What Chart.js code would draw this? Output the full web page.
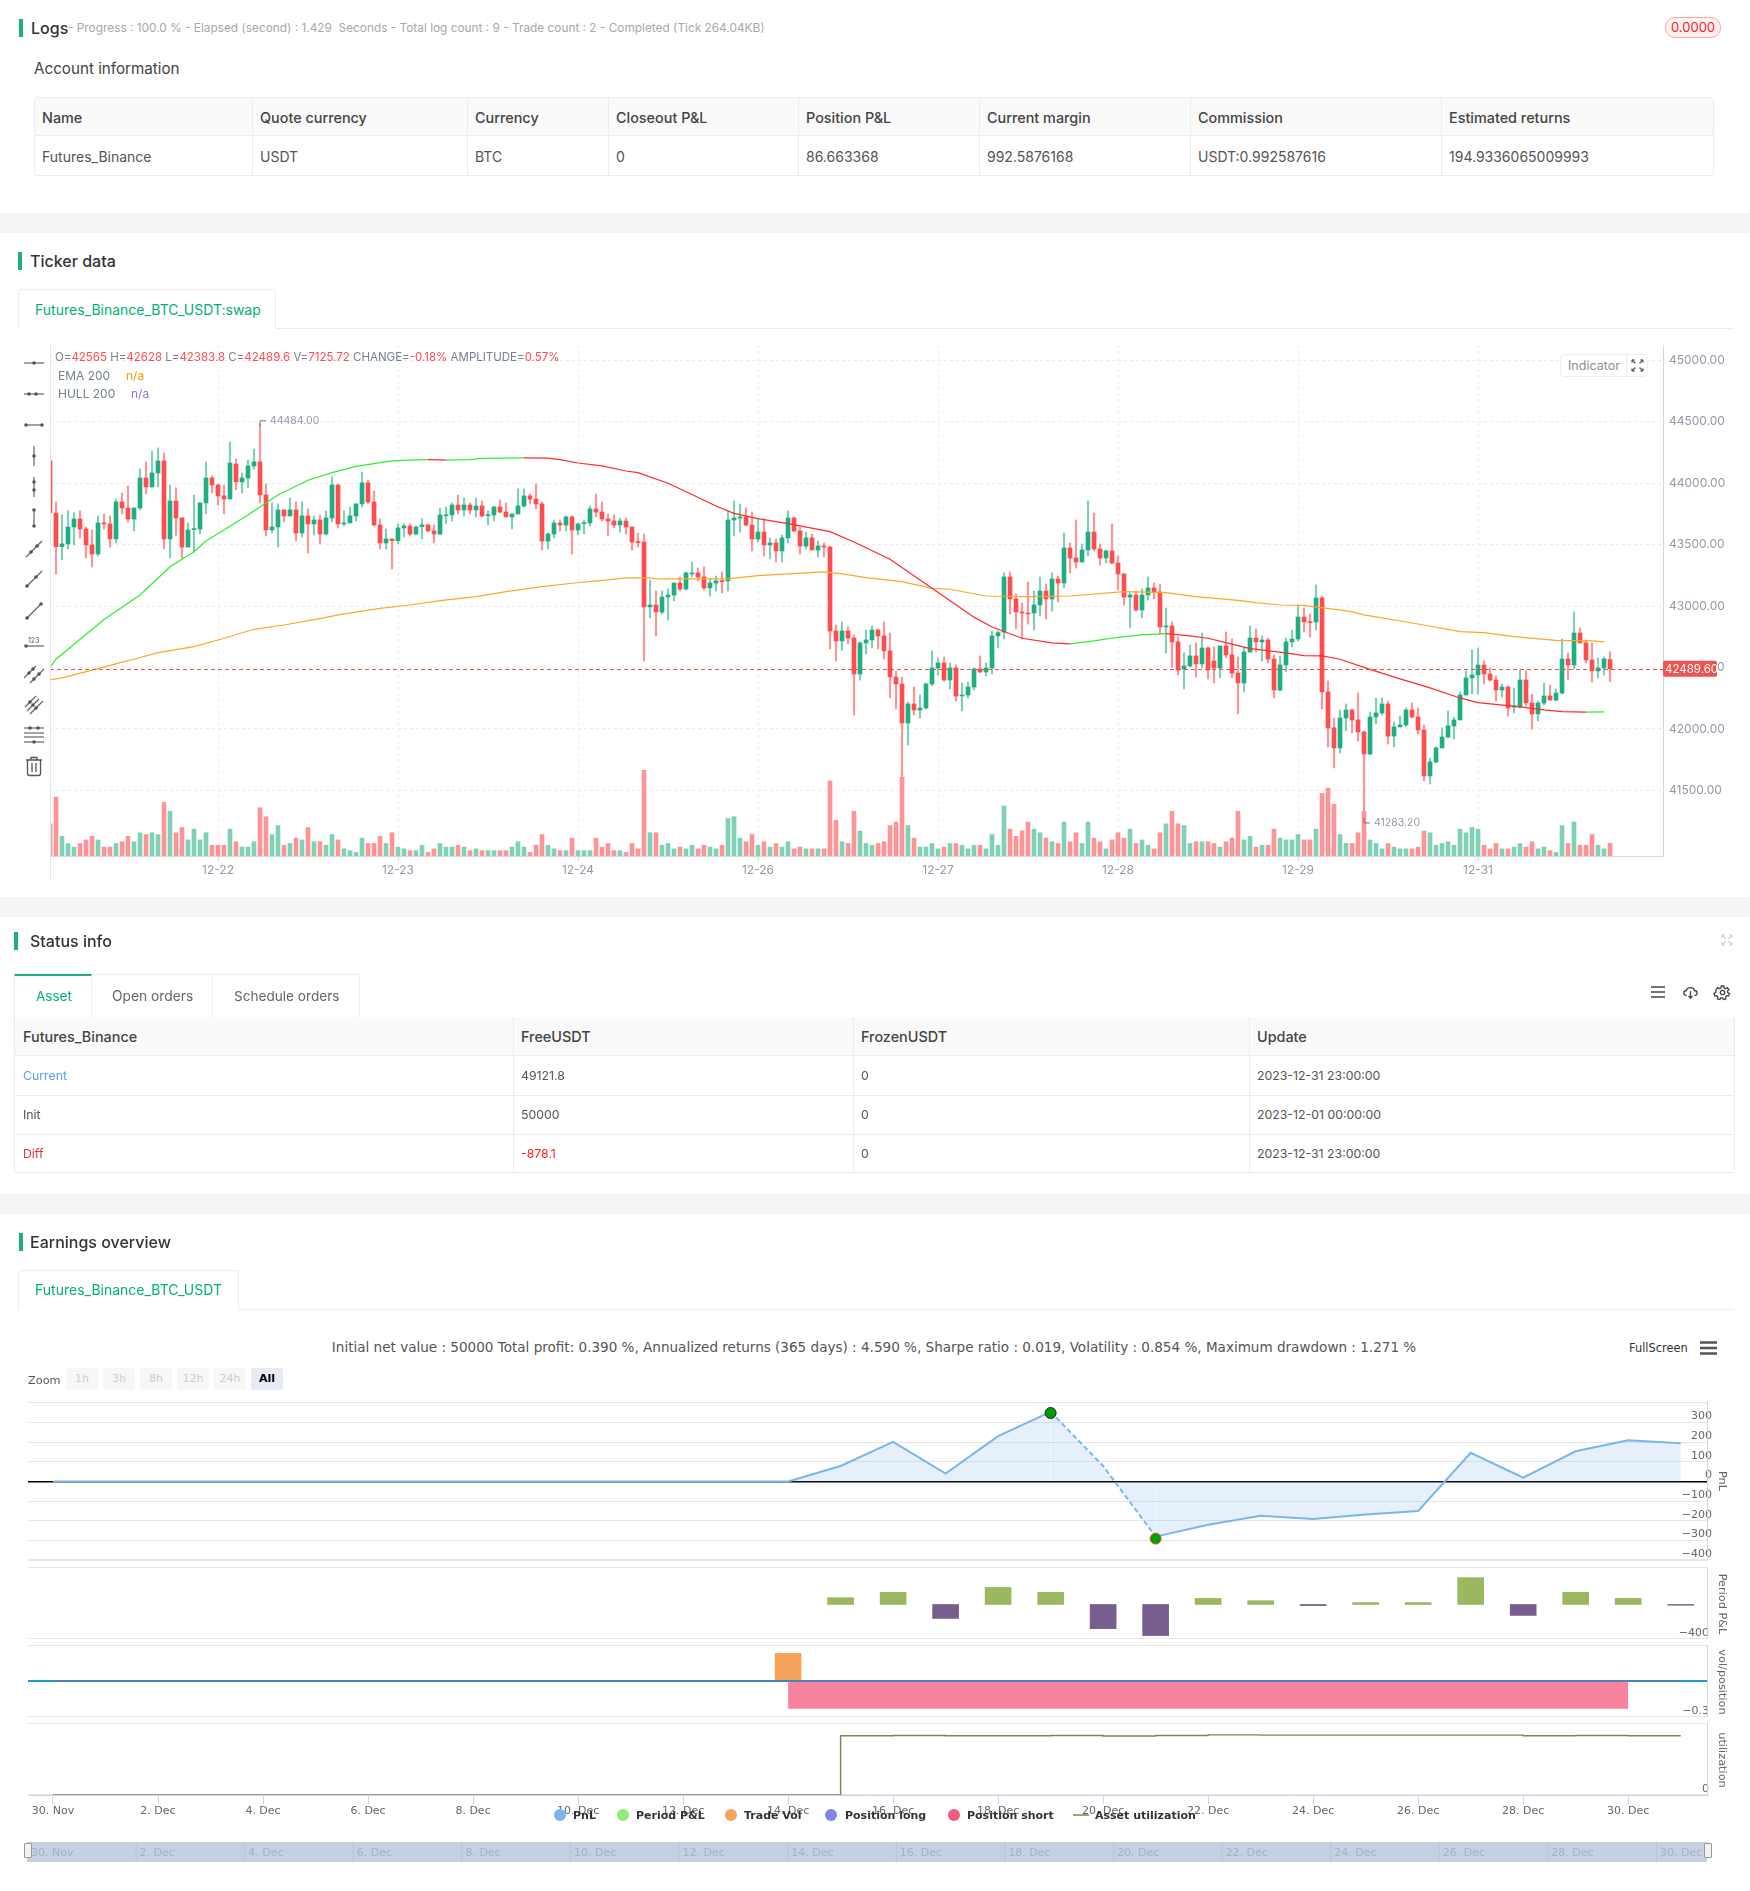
<!DOCTYPE html>
<html>
<head>
<meta charset="utf-8">
<script src="https://cdn.jsdelivr.net/npm/chart.js@4/dist/chart.umd.js"></script>
<style>
html,body{margin:0;padding:0;background:#fff}
body{position:relative;width:1750px;height:1891px;overflow:hidden;font-family:Inter,"Noto Sans",sans-serif;color:#333}
.t{position:absolute;white-space:nowrap;transform:translateY(-50%)}
.box{position:absolute;box-sizing:border-box}
.band{position:absolute;left:0;width:1750px;background:#f4f5f7}
.bar{position:absolute;width:4px;height:18px;background:#1fae81}
.h{font-size:16px;font-weight:500;color:#333}
.b{font-size:14.400px;font-weight:500;color:#444}
.c{font-size:14px;color:#555}
.s{font-size:12.300px;color:#555}
.line{position:absolute;background:#ececec}
.rv{color:#ff4d4f}
canvas{position:absolute;left:0}
.hc{font-family:"DejaVu Sans",sans-serif}
.ztxt{position:absolute;box-sizing:border-box;height:22px;line-height:22px;text-align:center;font-size:11px;background:#f7f7f7;color:#ccc;border-radius:2px;font-family:"DejaVu Sans",sans-serif}
.lg{font-family:"DejaVu Sans",sans-serif;font-size:11px;font-weight:700;color:#333}
.dot{position:absolute;width:12px;height:12px;border-radius:50%;transform:translateY(-50%)}
.vt{position:absolute;writing-mode:vertical-rl;white-space:nowrap;font-family:"DejaVu Sans",sans-serif;font-size:11.300px;color:#666;transform:translate(-50%,-50%)}
svg{position:absolute;overflow:visible}
</style>
</head>
<body>

<!-- logs -->
<div class="bar" style="left:19px;top:19px"></div>
<div class="t h" style="left:31px;top:28px">Logs</div>
<div class="t" style="left:68px;top:27.500px;font-size:11.850px;color:#a8a8a8">- Progress : 100.0 % - Elapsed (second) : 1.429&nbsp; Seconds - Total log count : 9 - Trade count : 2 - Completed (Tick 264.04KB)</div>
<div class="box" style="left:1665px;top:17px;width:56px;height:21px;border:1px solid #ffa39e;border-radius:10px;background:#fff1f0;color:#f5222d;font-size:13px;text-align:center;line-height:19px">0.0000</div>
<div class="t" style="left:34px;top:68px;font-size:15.200px;color:#444">Account information</div>

<div class="box" style="left:34px;top:97px;width:1680px;height:79px;border:1px solid #ececec;border-radius:3px"></div>
<div class="box" style="left:35px;top:98px;width:1678px;height:38px;background:#fafafa;border-bottom:1px solid #ececec"></div>
<div id="accountTable"></div>

<div class="band" style="top:213px;height:20px"></div>

<!-- ticker -->
<div class="bar" style="left:18px;top:252px"></div>
<div class="t h" style="left:30px;top:261px">Ticker data</div>
<div class="line" style="left:18px;top:328px;width:1716px;height:1px"></div>
<div class="box" style="left:18px;top:289px;width:258px;height:40px;border:1px solid #ececec;border-bottom:1px solid #fff;border-radius:4px 4px 0 0;background:#fff"></div>
<div class="t" style="left:35px;top:308.500px;font-size:14px;color:#00b07c">Futures_Binance_BTC_USDT:swap</div>

<canvas id="candleChart" width="1750" height="535" style="top:345px;width:1750px;height:535px"></canvas>

<div class="t" style="left:55px;top:357px;font-size:11.500px;color:#76808f">O=<span class="rv">42565</span> H=<span class="rv">42628</span> L=<span class="rv">42383.8</span> C=<span class="rv">42489.6</span> V=<span class="rv">7125.72</span> CHANGE=<span class="rv">-0.18%</span> AMPLITUDE=<span class="rv">0.57%</span></div>
<div class="t" style="left:58px;top:375px;font-size:12px;color:#76808f">EMA 200</div>
<div class="t" style="left:126px;top:375px;font-size:12px;color:#ff9800">n/a</div>
<div class="t" style="left:58px;top:393px;font-size:12px;color:#76808f">HULL 200</div>
<div class="t" style="left:131px;top:393px;font-size:12px;color:#9b6fd0">n/a</div>

<div class="box" style="left:1560px;top:354px;width:88px;height:23px;border:1px solid #eee;border-radius:4px;background:#fff"></div>
<div class="line" style="left:1626px;top:354px;width:1px;height:23px"></div>
<div class="t" style="left:1568px;top:365px;font-size:12.500px;color:#8b8f97">Indicator</div>
<svg style="left:1631px;top:359px" width="13" height="13" viewBox="0 0 13 13" fill="none" stroke="#666" stroke-width="1.4"><path d="M1 1l3.500 3.500M12 1L8.500 4.500M1 12l3.500-3.500M12 12L8.500 8.500M1 1h2.500M1 1v2.500M12 1H9.500M12 1v2.500M1 12h2.500M1 12V9.500M12 12H9.500M12 12V9.500"/></svg>

<div id="tools"></div>

<div class="band" style="top:897px;height:20px"></div>

<!-- status -->
<div class="bar" style="left:14px;top:932px"></div>
<div class="t h" style="left:30px;top:941px">Status info</div>
<svg style="left:1721px;top:934px" width="12" height="12" viewBox="0 0 12 12" fill="none" stroke="#d5d5d5" stroke-width="1.2"><path d="M1 1l4 4M1 1h3M1 1v3M11 11L7 7M11 11H8M11 11V8M11 1L7 5M11 1H8M11 1v3M1 11l4-4M1 11h3M1 11V8"/></svg>
<div class="line" style="left:14px;top:1017px;width:1720px;height:1px"></div>
<div class="box" style="left:92px;top:974px;width:121px;height:43px;border:1px solid #eee;border-bottom:none;border-left:none"></div>
<div class="box" style="left:213px;top:974px;width:147px;height:43px;border:1px solid #eee;border-bottom:none;border-left:none"></div>
<div class="box" style="left:14px;top:974px;width:78px;height:44px;border:1px solid #eee;border-top:2px solid #1fae81;border-bottom:1px solid #fff;background:#fff"></div>
<div class="t" style="left:36px;top:996px;font-size:13.500px;color:#00b07c">Asset</div>
<div class="t" style="left:112px;top:996px;font-size:13.800px;color:#666">Open orders</div>
<div class="t" style="left:234px;top:996px;font-size:13.600px;color:#666">Schedule orders</div>
<svg style="left:1650px;top:985px" width="16" height="14" viewBox="0 0 16 14" stroke="#444" stroke-width="1.6"><path d="M1 2h14M1 7h14M1 12h14"/></svg>
<svg style="left:1682px;top:985px" width="17" height="14" viewBox="0 0 17 14" fill="none" stroke="#444" stroke-width="1.3"><path d="M4.500 10.500C1 10.500 1 5.500 4.500 5.500 5 2 11.500 1.500 12.500 5.500 16 5.500 16 10.500 12.500 10.500M8.500 6v7M6.500 11l2 2 2-2"/></svg>
<svg style="left:1715px;top:985px" width="15" height="15" viewBox="0 0 15 15" fill="none" stroke="#444" stroke-width="1.3"><circle cx="7.500" cy="7.500" r="2.200"/><path d="M6.300 1h2.400l.4 2 1.500.7 1.800-1.100 1.500 1.900-1.400 1.500.3 1.600 1.700 1-.8 2.300-2-.2-1.100 1.200.2 2-2.300.6-1-1.700h-1.600l-1 1.700-2.300-.6.2-2-1.100-1.200-2 .2-.8-2.300 1.700-1 .3-1.600L1.100 4.500l1.500-1.900 1.800 1.100 1.500-.7z"/></svg>
<div class="box" style="left:14px;top:1017px;width:1720px;height:38px;background:#fafafa"></div>
<div class="line" style="left:14px;top:1055px;width:1720px;height:1px"></div>
<div class="line" style="left:14px;top:1095px;width:1720px;height:1px"></div>
<div class="line" style="left:14px;top:1134px;width:1720px;height:1px"></div>
<div class="line" style="left:14px;top:1172px;width:1720px;height:1px"></div>
<div class="line" style="left:14px;top:1017px;width:1px;height:155px"></div>
<div class="line" style="left:1734px;top:1017px;width:1px;height:155px"></div>
<div id="statusTable"></div>

<div class="band" style="top:1194px;height:20px"></div>

<!-- earnings -->
<div class="bar" style="left:19px;top:1233px"></div>
<div class="t h" style="left:30px;top:1242px">Earnings overview</div>
<div class="line" style="left:18px;top:1309px;width:1716px;height:1px"></div>
<div class="box" style="left:18px;top:1270px;width:221px;height:40px;border:1px solid #ececec;border-bottom:1px solid #fff;border-radius:4px 4px 0 0;background:#fff"></div>
<div class="t" style="left:35px;top:1289px;font-size:14px;color:#00b07c">Futures_Binance_BTC_USDT</div>

<div class="t hc" style="left:874px;top:1347px;font-size:13.550px;color:#555;transform:translate(-50%,-50%)">Initial net value : 50000 Total profit: 0.390 %, Annualized returns (365 days) : 4.590 %, Sharpe ratio : 0.019, Volatility : 0.854 %, Maximum drawdown : 1.271 %</div>
<div class="t hc" style="left:1629px;top:1348px;font-size:11.400px;color:#333">FullScreen</div>
<svg style="left:1700px;top:1341px" width="17" height="14" viewBox="0 0 17 14" stroke="#555" stroke-width="2.600"><path d="M0 1.500h17M0 7h17M0 12.500h17"/></svg>

<div class="t hc" style="left:28px;top:1380px;font-size:11.300px;color:#555">Zoom</div>
<div class="ztxt" style="left:66px;top:1368px;width:32px">1h</div>
<div class="ztxt" style="left:103px;top:1368px;width:32px">3h</div>
<div class="ztxt" style="left:140px;top:1368px;width:32px">8h</div>
<div class="ztxt" style="left:177px;top:1368px;width:32px">12h</div>
<div class="ztxt" style="left:214px;top:1368px;width:32px">24h</div>
<div class="ztxt" style="left:251px;top:1368px;width:32px;background:#e6ebf5;color:#000;font-weight:600">All</div>

<canvas id="pnlChart" width="1750" height="160" style="top:1401px;width:1750px;height:160px"></canvas>
<canvas id="periodChart" width="1750" height="74" style="top:1566px;width:1750px;height:74px"></canvas>
<canvas id="volChart" width="1750" height="74" style="top:1644px;width:1750px;height:74px"></canvas>
<canvas id="utilChart" width="1750" height="102" style="top:1722px;width:1750px;height:102px"></canvas>
<canvas id="navChart" width="1750" height="22" style="top:1841px;width:1750px;height:22px"></canvas>

<div class="vt" style="left:1722px;top:1481px">PnL</div>
<div class="vt" style="left:1722px;top:1604px">Period P&amp;L</div>
<div class="vt" style="left:1722px;top:1682px">vol/position</div>
<div class="vt" style="left:1722px;top:1760px">utilization</div>

<div class="box" style="left:24px;top:1843px;width:8px;height:15px;background:#f2f2f2;border:1px solid #999;border-radius:1px"></div>
<div class="box" style="left:1704px;top:1843px;width:8px;height:15px;background:#f2f2f2;border:1px solid #999;border-radius:1px"></div>

<div class="dot" style="left:554px;top:1815px;background:#7cb5ec"></div><div class="t lg" style="left:573px;top:1815px">PnL</div>
<div class="dot" style="left:617px;top:1815px;background:#90ed7d"></div><div class="t lg" style="left:636px;top:1815px">Period P&amp;L</div>
<div class="dot" style="left:725px;top:1815px;background:#f7a35c"></div><div class="t lg" style="left:744px;top:1815px">Trade Vol</div>
<div class="dot" style="left:825px;top:1815px;background:#8085e9"></div><div class="t lg" style="left:845px;top:1815px">Position long</div>
<div class="dot" style="left:948px;top:1815px;background:#f15c80"></div><div class="t lg" style="left:967px;top:1815px">Position short</div>
<div class="box" style="left:1073px;top:1814px;width:16px;height:2px;background:#a99d73"></div><div class="t lg" style="left:1095px;top:1815px">Asset utilization</div>

<script>
// hourly candles
const opens = [
  44182,43758,43484,43506,43644,43709,43628,43498,43424,43677,
  43669,43547,43848,43799,43709,43799,44043,43970,44084,44182,
  43547,43856,43718,43481,43623,43628,43840,44043,43986,43897,
  43872,44157,44011,44043,44141,44174,43905,43620,43644,43783,
  43734,43783,43595,43734,43669,43701,43587,43718,43986,43669,
  43677,43734,43832,44003,43848,43661,43514,43547,43533,43636,
  43652,43587,43647,43661,43612,43587,43736,43742,43823,43783,
  43823,43783,43815,43736,43742,43807,43766,43726,43750,43815,
  43897,43872,43832,43530,43587,43677,43660,43726,43620,43671,
  43677,43791,43766,43709,43693,43660,43693,43644,43522,43522,
  42993,43009,42952,43074,43090,43188,43139,43262,43270,43237,
  43148,43188,43205,43205,43701,43717,43726,43660,43546,43603,
  43498,43514,43449,43555,43717,43612,43489,43555,43457,43489,
  43481,42797,42716,42797,42740,42447,42700,42724,42805,42757,
  42635,42423,42366,42048,42203,42154,42170,42366,42496,42537,
  42398,42496,42268,42276,42341,42488,42464,42496,42757,42789,
  43237,43058,42952,42944,42944,43009,43123,43058,43221,43188,
  43473,43392,43359,43457,43603,43465,43392,43449,43351,43262,
  43074,43090,42968,43090,43147,43115,42830,42838,42708,42488,
  42512,42594,42529,42659,42553,42496,42675,42602,42455,42374,
  42626,42740,42708,42724,42569,42317,42521,42708,42732,42911,
  42871,42871,43066,42301,42008,41845,42089,42154,42073,41975,
  41796,42097,42130,42203,41942,42016,42032,42154,42097,41991,
  41617,41731,41845,41934,42024,42073,42276,42415,42439,42520,
  42447,42398,42317,42341,42178,42178,42398,42211,42122,42211,
  42268,42235,42292,42569,42521,42781,42700,42561,42472,42496,42565
];
const highs = [
  44293,43848,43742,43777,43761,43775,43644,43620,43734,43750,
  43734,43872,43921,43978,43799,44117,44174,44263,44288,44247,
  43986,43962,43718,43677,43905,43840,44174,44060,43994,43986,
  44336,44198,44084,44190,44279,44484,43994,43840,43832,43783,
  43880,43848,43848,43791,43734,43742,43775,44051,43994,43775,
  43807,43832,44092,44027,43937,43709,43628,43547,43669,43669,
  43669,43652,43712,43669,43661,43799,43807,43840,43905,43880,
  43840,43880,43856,43775,43815,43864,43840,43750,43954,43954,
  43913,43994,43848,43595,43701,43701,43734,43734,43677,43701,
  43815,43913,43848,43750,43742,43717,43717,43644,43595,43587,
  43213,43123,43123,43139,43188,43237,43278,43359,43310,43319,
  43229,43245,43278,43774,43856,43831,43799,43766,43709,43709,
  43555,43546,43579,43774,43726,43644,43603,43587,43530,43514,
  43489,42846,42871,42830,42765,42708,42805,42838,42814,42871,
  42781,42472,42423,42219,42341,42276,42374,42635,42578,42586,
  42537,42521,42374,42382,42496,42594,42537,42797,42797,43270,
  43278,43099,43025,43196,43123,43237,43180,43270,43245,43595,
  43514,43701,43506,43856,43758,43506,43457,43669,43408,43262,
  43107,43123,43139,43237,43188,43180,42985,42871,42748,42618,
  42683,42700,42781,42667,42667,42675,42789,42732,42586,42667,
  42838,42814,42757,42740,42602,42594,42740,42805,43009,42985,
  42936,43172,43082,42390,42089,42154,42203,42162,42293,41983,
  42138,42252,42252,42227,42056,42105,42170,42211,42170,42032,
  41763,41853,42008,42146,42097,42301,42472,42643,42659,42553,
  42496,42431,42366,42350,42333,42480,42472,42284,42227,42374,
  42358,42325,42732,42618,42952,42822,42724,42700,42578,42586,42628
];
const lows = [
  43761,43262,43376,43465,43498,43555,43392,43319,43408,43628,
  43481,43514,43750,43685,43612,43783,43913,43970,43970,43465,
  43392,43571,43392,43481,43441,43587,43750,43921,43823,43750,
  43872,43946,43921,43962,44117,43840,43571,43595,43481,43685,
  43734,43530,43563,43433,43579,43506,43579,43685,43636,43652,
  43677,43693,43807,43832,43652,43465,43465,43302,43506,43563,
  43571,43579,43547,43604,43514,43579,43669,43693,43750,43734,
  43750,43726,43726,43660,43693,43758,43726,43628,43750,43807,
  43832,43791,43457,43465,43555,43612,43612,43424,43579,43587,
  43652,43726,43693,43571,43636,43603,43587,43457,43481,42553,
  42903,42757,42936,42887,43042,43123,43131,43237,43205,43131,
  43082,43123,43107,43123,43571,43603,43652,43449,43522,43408,
  43384,43359,43359,43514,43603,43424,43465,43457,43400,43400,
  42651,42553,42640,42692,42113,42398,42610,42659,42651,42570,
  42252,42162,41350,41869,42113,42089,42162,42350,42439,42390,
  42325,42227,42146,42252,42317,42456,42431,42447,42659,42732,
  42936,42814,42732,42854,42805,42920,42895,42960,43033,43147,
  43270,43310,43359,43408,43449,43335,43351,43343,43131,43009,
  42822,42960,42903,43050,43058,42773,42618,42504,42439,42325,
  42504,42423,42496,42407,42374,42415,42578,42415,42122,42301,
  42626,42626,42553,42537,42252,42309,42464,42667,42716,42789,
  42748,42805,42162,41853,41682,41804,41983,41967,41902,41283.2,
  41788,42040,42113,41877,41853,42016,42016,42089,41959,41576,
  41552,41723,41845,41926,41918,42073,42276,42284,42284,42366,
  42390,42227,42260,42105,42130,42170,42187,41999,42065,42195,
  42235,42227,42284,42398,42488,42700,42537,42382,42415,42439,42383.8
];
const closes = [
  43761,43484,43506,43644,43709,43628,43498,43424,43677,43669,
  43547,43848,43799,43709,43799,44043,43970,44084,44182,43547,
  43856,43718,43481,43620,43628,43840,44043,43986,43897,43872,
  44165,44011,44043,44141,44174,43905,43620,43644,43783,43734,
  43783,43595,43734,43669,43701,43587,43718,43986,43669,43677,
  43734,43832,44003,43848,43661,43514,43547,43533,43636,43652,
  43587,43644,43661,43612,43587,43742,43742,43823,43783,43823,
  43783,43815,43734,43742,43807,43766,43726,43750,43815,43897,
  43872,43832,43530,43587,43677,43660,43726,43620,43669,43677,
  43791,43766,43709,43693,43660,43693,43644,43522,43517,42993,
  43009,42952,43074,43090,43188,43139,43270,43270,43237,43148,
  43188,43205,43199,43701,43717,43726,43660,43546,43603,43498,
  43514,43449,43555,43717,43612,43489,43555,43457,43489,43481,
  42797,42716,42797,42740,42447,42700,42724,42805,42757,42635,
  42423,42366,42048,42203,42154,42170,42366,42496,42537,42398,
  42496,42268,42276,42341,42488,42464,42496,42757,42784,43237,
  43058,42952,42944,42936,43009,43123,43058,43221,43188,43473,
  43392,43359,43457,43603,43465,43392,43449,43351,43262,43074,
  43090,42968,43090,43147,43115,42830,42838,42708,42480,42512,
  42594,42529,42659,42480,42496,42675,42602,42455,42374,42626,
  42740,42708,42724,42569,42317,42521,42708,42732,42911,42871,
  42865,43066,42301,42008,41845,42089,42154,42073,41975,41796,
  42097,42130,42203,41942,42016,42032,42154,42097,41991,41617,
  41731,41845,41934,42024,42073,42276,42415,42439,42520,42447,
  42398,42317,42341,42170,42187,42398,42211,42122,42211,42268,
  42235,42292,42569,42521,42781,42700,42561,42472,42496,42569,42489.6
];
// volume in thousands
const volumes = [
  18,33,11,7,5,7,9,11,9,5,
  5,7,8,11,8,13,12,13,12,30,
  25,13,16,9,15,9,13,6,6,6,
  15,8,5,5,8,27,22,12,17,6,
  7,10,9,16,8,8,6,12,9,4,
  3,2,10,7,7,11,7,13,5,4,
  3,3,6,2,4,7,5,5,6,5,
  3,4,3,3,3,3,3,5,8,5,
  2,6,12,6,4,3,3,10,3,3,
  3,10,5,7,3,3,2,7,4,48,
  13,13,6,7,4,5,4,6,4,6,
  5,4,6,21,22,10,8,12,6,8,
  5,7,5,8,4,5,4,4,4,4,
  42,20,8,7,25,14,7,6,7,8,
  17,19,44,17,10,5,5,7,4,5,
  7,7,6,4,6,6,4,12,6,28,
  15,11,14,19,15,13,10,8,7,19,
  8,13,7,19,10,8,4,9,13,10,
  15,7,9,6,4,13,18,25,18,17,
  7,8,8,8,7,5,8,10,25,9,
  11,5,6,6,15,10,9,9,12,9,
  9,15,35,38,29,12,7,7,13,25,
  9,7,4,7,5,4,4,4,5,14,
  13,6,7,8,6,15,13,16,15,6,
  4,7,4,4,5,7,5,8,4,5,
  3,2,17,7,19,6,6,12,6,4,7.1
];

const hullIdx = [0,1,9,15,20,24,26,33,38,43,47,51,57,60,63,65,66,70,72,79,83,85,88,92,96,98,103,107,111,114,118,123,130,134,140,147,154,157,162,167,170,174,178,182,186,190,193,196,200,205,209,212,215,220,225,230,235,238,245,249,252,256,259];
const hullVals = [42500,42567,42890,43090,43320,43443,43530,43742,43905,44025,44087,44138,44182,44188,44192,44190,44188,44193,44203,44207,44205,44193,44165,44141,44100,44087,44000,43908,43815,43755,43712,43672,43606,43522,43381,43145,42910,42830,42738,42700,42692,42716,42746,42765,42776,42757,42738,42703,42653,42625,42597,42594,42567,42485,42407,42334,42252,42214,42180,42155,42141,42137,42139];
const emaIdx = [0,2,8,12,14,18,24,28,34,39,45,48,55,60,65,71,76,82,87,93,96,100,101,113,118,123,129,132,136,142,147,150,156,163,170,179,186,191,198,201,205,209,217,219,229,235,239,244,251,257,259];
const emaVals = [42399,42415,42491,42544,42567,42621,42670,42724,42811,42846,42898,42928,42982,43009,43044,43077,43118,43158,43186,43213,43229,43229,43221,43221,43248,43262,43278,43262,43232,43199,43145,43137,43082,43077,43082,43118,43110,43077,43047,43028,43009,43006,42955,42928,42846,42792,42784,42751,42721,42716,42708];

const priceTicks = [41500,42000,42500,43000,43500,44000,44500,45000];
const timeTickIdx = [28,58,88,118,148,178,208,238];
const timeTickLabels = ['12-22','12-23','12-24','12-26','12-27','12-28','12-29','12-31'];
const lastPrice = 42489.6;
const maxMark = {idx:35, value:44484};
const minMark = {idx:219, value:41283.2};

// daily backtest series, index 0 = 30 Nov, index 31 = 31 Dec
const dayLabels = ['30. Nov','1. Dec','2. Dec','3. Dec','4. Dec','5. Dec','6. Dec','7. Dec','8. Dec','9. Dec','10. Dec','11. Dec','12. Dec','13. Dec','14. Dec','15. Dec','16. Dec','17. Dec','18. Dec','19. Dec','20. Dec','21. Dec','22. Dec','23. Dec','24. Dec','25. Dec','26. Dec','27. Dec','28. Dec','29. Dec','30. Dec','31. Dec'];
const pnlValues = [0,0,0,0,0,0,0,0,0,0,0,0,0,0,0,79,202,40,231,355,79,-281,-220,-175,-191,-168,-150,146,19,154,210,195];
const dashedDays = [19,20];
const flagDays = [19,21];
const flagValues = [349,-291];
const flagBorders = ['#222','#e8562a'];
const periodValues = [null,null,null,null,null,null,null,null,null,null,null,null,null,null,null,79,140,-162,197,140,-280,-360,70,44,-13,22,22,311,-127,140,70,-9];
const tradeVol = [null,null,null,null,null,null,null,null,null,null,null,null,null,null,0.3];
const positionLong = [0,0,0,0,0,0,0,0,0,0,0,0,0,0,0,0,0,0,0,0,0,0,0,0,0,0,0,0,0,0,0,0];
const positionShort = [null,null,null,null,null,null,null,null,null,null,null,null,null,null,-0.3,-0.3,-0.3,-0.3,-0.3,-0.3,-0.3,-0.3,-0.3,-0.3,-0.3,-0.3,-0.3,-0.3,-0.3,-0.3,-0.3,null];
const utilization = [0,0,0,0,0,0,0,0,0,0,0,0,0,0,0,0.02,0.0201,0.02,0.02,0.0201,0.0199,0.0201,0.0203,0.0202,0.0202,0.0202,0.0202,0.0202,0.02,0.0201,0.02,0.02];

const accountHead = [['Name',42],['Quote currency',260],['Currency',475],['Closeout P&L',616],['Position P&L',806],['Current margin',987],['Commission',1198],['Estimated returns',1449]];
const accountRow = ['Futures_Binance','USDT','BTC','0','86.663368','992.5876168','USDT:0.992587616','194.9336065009993'];
const statusHead = [['Futures_Binance',23],['FreeUSDT',521],['FrozenUSDT',861],['Update',1257]];
const statusRows = [
  ['Current','49121.8','0','2023-12-31 23:00:00'],
  ['Init','50000','0','2023-12-01 00:00:00'],
  ['Diff','-878.1','0','2023-12-31 23:00:00']
];

function addText(parent, cls, text, x, y, color) {
  const d = document.createElement('div');
  d.className = 't ' + cls;
  d.textContent = text;
  d.style.left = x + 'px';
  d.style.top = y + 'px';
  if (color) d.style.color = color;
  parent.appendChild(d);
}

function addLine(parent, x, y, h) {
  const d = document.createElement('div');
  d.className = 'line';
  d.style.cssText = `left:${x}px;top:${y}px;width:1px;height:${h}px`;
  parent.appendChild(d);
}

const acc = document.getElementById('accountTable');
accountHead.forEach((h, i) => {
  addText(acc, 'b', h[0], h[1], 116.5);
  addText(acc, 'c', accountRow[i], h[1], 155.5);
  if (i > 0) addLine(acc, h[1] - 8, 97, 79);
});

const st = document.getElementById('statusTable');
statusHead.forEach((h, i) => {
  addText(st, 'b', h[0], h[1], 1035.5);
  if (i > 0) addLine(st, h[1] - 8, 1017, 155);
});
statusRows.forEach((row, r) => {
  const y = [1075, 1114, 1153][r];
  row.forEach((txt, i) => {
    let col = null;
    if (txt === 'Current') col = '#5aa0ee';
    if (txt === 'Diff') col = '#d9363e';
    if (txt === '-878.1') col = '#ff2020';
    addText(st, 's', txt, statusHead[i][1], y, col);
  });
});

// left drawing toolbar
const dot = (x, y) => `<circle cx="${x}" cy="${y}" r="1.8" fill="#555"/>`;
const seg = (a, b, c, d) => `<path d="M${a} ${b}L${c} ${d}" stroke="#666" stroke-width="1.2" fill="none"/>`;
const toolIcons = [
  [363, seg(0,10,20,10) + dot(10,10)],
  [394, seg(0,10,20,10) + dot(5,10) + dot(12,10)],
  [425, seg(1,10,19,10) + dot(2,10) + dot(18,10)],
  [456, seg(10,0,10,20) + dot(10,10)],
  [487, seg(10,0,10,20) + dot(10,5) + dot(10,13)],
  [518, seg(10,2,10,18) + dot(10,2) + dot(10,18)],
  [549, seg(2,18,18,2) + dot(7,13) + dot(13,7)],
  [579, seg(2,18,18,2) + dot(3,17) + dot(12,8)],
  [611, seg(3,17,17,3) + dot(3,17) + dot(17,3)],
  [643, seg(2,13,20,13) + dot(2,13) + '<text x="4" y="10" font-size="7" fill="#555" font-family="Inter">123</text>'],
  [674, seg(0,14,12,2) + seg(6,19,20,5) + dot(5,9) + dot(9,5) + dot(10,15) + dot(15,10)],
  [704, seg(1,13,12,2) + seg(3,17,15,5) + seg(6,20,19,7) + dot(6,8) + dot(9,11) + dot(12,14)],
  [735, seg(0,3,20,3) + seg(0,8,20,8) + seg(0,12,20,12) + seg(0,17,20,17) + dot(6,3) + dot(14,3) + dot(10,17)],
  [766, '<path d="M2 4h16M7 4V1.500h6V4M3.500 4v13.500a2 2 0 0 0 2 2h9a2 2 0 0 0 2-2V4M8 7v9M12 7v9" stroke="#555" stroke-width="1.3" fill="none"/>']
];
document.getElementById('tools').innerHTML = toolIcons.map(t =>
  `<svg style="left:24px;top:${t[0] - 10}px" width="20" height="20" viewBox="0 0 20 20">${t[1]}</svg>`).join('');

// candle chart
const GREEN = '#1fae81', RED = '#ff4d4f', GREEN_L = '#7fd0b5', RED_L = '#ff9496';
const isUp = opens.map((o, i) => closes[i] >= o);

const priceMarks = {
  id: 'priceMarks',
  afterDatasetsDraw(chart) {
    const {ctx, chartArea, scales} = chart;
    const y = scales.y.getPixelForValue(lastPrice);
    ctx.save();
    ctx.strokeStyle = '#e8504f';
    ctx.lineWidth = 1;
    ctx.setLineDash([4, 3]);
    ctx.beginPath();
    ctx.moveTo(chartArea.left, Math.round(y) + 0.5);
    ctx.lineTo(chartArea.right, Math.round(y) + 0.5);
    ctx.stroke();
    ctx.setLineDash([]);
    ctx.fillStyle = '#ef5350';
    ctx.beginPath();
    ctx.roundRect(chartArea.right, y - 8, 54, 16, 2);
    ctx.fill();
    ctx.fillStyle = '#fff';
    ctx.font = '11.500px Inter';
    ctx.textBaseline = 'middle';
    ctx.fillText(lastPrice.toFixed(2), chartArea.right + 2, y + 0.5);

    ctx.fillStyle = '#929aa8';
    ctx.strokeStyle = '#777';
    ctx.font = '10.500px Inter';
    [maxMark, minMark].forEach((m, k) => {
      const px = scales.x.getPixelForValue(m.idx);
      const py = scales.y.getPixelForValue(m.value) + (k === 0 ? -3 : 6);
      ctx.beginPath();
      ctx.moveTo(px + 6, py);
      ctx.lineTo(px, py);
      ctx.lineTo(px, py + (k === 0 ? 5 : -5));
      ctx.stroke();
      ctx.fillText(m.value.toFixed(2), px + 10, py);
    });
    // left border of the plot runs down past the time axis
    ctx.strokeStyle = '#e4e6ea';
    ctx.beginPath();
    ctx.moveTo(chartArea.left + 0.5, chartArea.top);
    ctx.lineTo(chartArea.left + 0.5, chart.height);
    ctx.stroke();
    ctx.restore();
  }
};

// the scale reserves half a label above and below itself, take that back
const noEndPadding = s => { s.paddingTop = 0; s.paddingBottom = 0; };

new Chart(document.getElementById('candleChart'), {
  type: 'bar',
  data: {
    datasets: [
      {type: 'line', data: hullIdx.map((x, k) => ({x, y: hullVals[k]})), borderWidth: 1.2, pointRadius: 0, tension: 0, order: 0,
       segment: {borderColor: c => c.p1.parsed.y >= c.p0.parsed.y ? '#2cf02c' : '#ff2a2a'}},
      {type: 'line', data: emaIdx.map((x, k) => ({x, y: emaVals[k]})), borderColor: '#ffa726', borderWidth: 1.2, pointRadius: 0, tension: 0, order: 0},
      {data: opens.map((o, i) => ({x: i, y: [o, closes[i]]})), backgroundColor: isUp.map(u => u ? GREEN : RED), barThickness: 4, minBarLength: 1, order: 1},
      {data: opens.map((o, i) => ({x: i, y: [lows[i], highs[i]]})), backgroundColor: isUp.map(u => u ? GREEN_L : RED_L), barThickness: 1.5, order: 2},
      {data: volumes.map((v, i) => ({x: i, y: v})), yAxisID: 'yVol', backgroundColor: isUp.map(u => u ? GREEN_L : RED_L), barThickness: 4, order: 3}
    ]
  },
  options: {
    animation: false,
    responsive: false,
    layout: {autoPadding: false, padding: {left: 50, right: 0, top: 0, bottom: 0}},
    plugins: {legend: {display: false}, tooltip: {enabled: false}},
    datasets: {bar: {grouped: false, borderWidth: 0, borderSkipped: false}},
    scales: {
      x: {
        type: 'linear', min: 0, max: 268.83, offset: false,
        afterBuildTicks: s => { s.ticks = timeTickIdx.map(v => ({value: v})); },
        afterFit: s => { s.height = 24; },
        grid: {offset: false, color: '#ececec', tickColor: '#d5d8dd', tickLength: 5, tickBorderDash: [], drawOnChartArea: true},
        border: {color: '#d5d8dd', dash: [3, 3]},
        ticks: {
          autoSkip: false, maxRotation: 0, font: {family: 'Inter', size: 12}, color: '#929aa8', padding: 2,
          callback: v => timeTickLabels[timeTickIdx.indexOf(v)]
        }
      },
      y: {
        position: 'right', min: 40965, max: 45126,
        afterBuildTicks: s => { s.ticks = priceTicks.map(v => ({value: v})); },
        afterFit: s => { s.width = 87; noEndPadding(s); },
        grid: {color: '#ececec', drawTicks: false},
        border: {color: '#d5d8dd', dash: [3, 3]},
        ticks: {font: {family: 'Inter', size: 12}, color: '#929aa8', padding: 6, callback: v => v.toFixed(2)}
      },
      yVol: {display: false, min: 0, max: 286}
    }
  },
  plugins: [priceMarks]
});

// the earnings panels share one x range
const X_MIN = -0.476, X_MAX = 31.52;
const withDays = arr => arr.map((y, i) => ({x: i, y}));
const AXIS = '#ccd6eb';
const TICK_FONT = {family: 'DejaVu Sans', size: 11};
const minusLabel = v => String(v).replace('-', '\u2212');

const panelFrame = {
  id: 'panelFrame',
  beforeDatasetsDraw(chart) {
    const {ctx, chartArea: a} = chart;
    ctx.save();
    ctx.lineWidth = 1;
    ctx.strokeStyle = '#e6e6e6';
    ctx.beginPath();
    ctx.moveTo(a.left, a.top + 0.5);
    ctx.lineTo(a.right, a.top + 0.5);
    ctx.moveTo(a.left, a.bottom - 0.5);
    ctx.lineTo(a.right, a.bottom - 0.5);
    ctx.stroke();
    ctx.strokeStyle = AXIS;
    ctx.beginPath();
    ctx.moveTo(a.right - 0.5, a.top);
    ctx.lineTo(a.right - 0.5, a.bottom);
    ctx.stroke();
    ctx.restore();
  }
};

function makePanel(id, datasets, y, xAxis) {
  return new Chart(document.getElementById(id), {
    type: 'bar',
    data: {datasets},
    options: {
      animation: false,
      responsive: false,
      layout: {autoPadding: false, padding: {left: 28, right: 42, top: 1, bottom: xAxis ? 0 : 1}},
      plugins: {legend: {display: false}, tooltip: {enabled: false}},
      datasets: {bar: {grouped: false, borderWidth: 0, barThickness: 26}},
      scales: {
        x: xAxis || {type: 'linear', min: X_MIN, max: X_MAX, offset: false, display: false, grid: {display: false, offset: false}},
        y: Object.assign({
          position: 'right',
          afterFit: s => { s.width = 0; noEndPadding(s); },
          border: {display: false}
        }, y)
      }
    },
    plugins: [panelFrame]
  });
}

const pnlTicks = [-400,-300,-200,-100,0,100,200,300,400];
makePanel('pnlChart', [
  {type: 'scatter', data: flagDays.map((x, k) => ({x, y: flagValues[k]})), pointRadius: 5.5, borderWidth: 1,
   backgroundColor: '#00a000', pointBorderColor: flagBorders, order: 0},
  {type: 'line', data: withDays(pnlValues), borderColor: '#7cb5ec', borderWidth: 2, pointRadius: 0, tension: 0,
   fill: 'origin', backgroundColor: 'rgba(124,181,236,0.2)', order: 1,
   segment: {borderDash: c => dashedDays.includes(c.p0DataIndex) ? [5, 3] : undefined}}
], {
  min: -400, max: 405,
  afterBuildTicks: s => { s.ticks = pnlTicks.map(v => ({value: v})); },
  grid: {drawTicks: false, color: c => c.tick.value === 0 ? '#000' : '#e6e6e6', lineWidth: c => c.tick.value === 0 ? 1.5 : 1},
  ticks: {mirror: true, padding: 4, labelOffset: -6, font: TICK_FONT, color: '#666', callback: v => v === 400 ? '' : minusLabel(v)}
});

makePanel('periodChart', [
  {data: withDays(periodValues), backgroundColor: periodValues.map(v => v >= 0 ? '#9bb860' : '#775e8f')}
], {
  min: -400, max: 434,
  afterBuildTicks: s => { s.ticks = [{value: -400}]; },
  grid: {display: false},
  ticks: {mirror: true, padding: 1, labelOffset: -6, font: TICK_FONT, color: '#666', callback: minusLabel}
});

makePanel('volChart', [
  {type: 'line', data: withDays(positionLong), borderColor: '#4c81bd', borderWidth: 2, pointRadius: 0, order: 0},
  {data: withDays(tradeVol), backgroundColor: '#f7a35c', order: 2},
  {type: 'line', data: withDays(positionShort), stepped: true, fill: 'origin', backgroundColor: '#f7839f', borderWidth: 0, pointRadius: 0, order: 1}
], {
  min: -0.39, max: 0.39,
  afterBuildTicks: s => { s.ticks = [{value: -0.3}, {value: 0}]; },
  grid: {drawTicks: false, color: c => c.tick.value === 0 ? '#1f9bcf' : 'transparent', lineWidth: 2},
  ticks: {mirror: true, padding: 1, labelOffset: 2, font: TICK_FONT, color: '#666', callback: v => v === 0 ? '' : minusLabel(v)}
});

const dayTicks = dayLabels.map((_, i) => i).filter(i => i % 2 === 0);
makePanel('utilChart', [
  {type: 'line', data: withDays(utilization), stepped: true, borderColor: '#8a7f4f', borderWidth: 1.4, pointRadius: 0}
], {
  min: 0, max: 0.0243,
  afterBuildTicks: s => { s.ticks = [{value: 0}]; },
  grid: {display: false},
  ticks: {mirror: true, padding: 1, labelOffset: -6, font: TICK_FONT, color: '#666', callback: v => String(v)}
}, {
  type: 'linear', min: X_MIN, max: X_MAX, offset: false,
  afterBuildTicks: s => { s.ticks = dayTicks.map(v => ({value: v})); },
  afterFit: s => { s.height = 29; },
  grid: {drawOnChartArea: false, offset: false, tickLength: 9, tickColor: AXIS},
  border: {color: AXIS},
  ticks: {autoSkip: false, maxRotation: 0, font: TICK_FONT, color: '#666', padding: 1, callback: v => dayLabels[v]}
});

// navigator strip under the panels
const navStrip = {
  id: 'navStrip',
  beforeDatasetsDraw(chart) {
    const {ctx, chartArea: a, scales} = chart;
    ctx.save();
    ctx.fillStyle = '#c5d1e3';
    ctx.fillRect(a.left, a.top, a.right - a.left, a.bottom - a.top);
    ctx.font = '11px "DejaVu Sans"';
    ctx.textBaseline = 'middle';
    dayTicks.forEach(d => {
      const x = scales.x.getPixelForValue(d);
      if (d > 0) {
        ctx.fillStyle = '#b7c4d9';
        ctx.fillRect(x, a.top, 1, a.bottom - a.top);
      }
      ctx.fillStyle = '#a5b1c6';
      ctx.fillText(dayLabels[d], x + 4, (a.top + a.bottom) / 2 + 1);
    });
    ctx.restore();
  }
};
new Chart(document.getElementById('navChart'), {
  type: 'line',
  data: {datasets: [{data: [], pointRadius: 0}]},
  options: {
    animation: false,
    responsive: false,
    layout: {autoPadding: false, padding: {left: 27, right: 43, top: 1, bottom: 1}},
    plugins: {legend: {display: false}, tooltip: {enabled: false}},
    scales: {x: {type: 'linear', min: 0, max: 30.94, display: false}, y: {display: false}}
  },
  plugins: [navStrip]
});
</script>
</body>
</html>
